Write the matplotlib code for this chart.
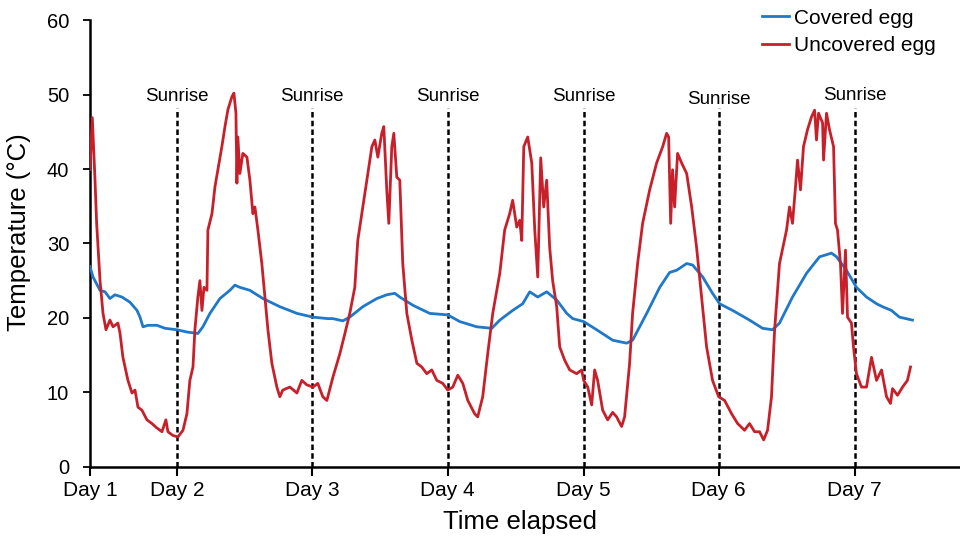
import matplotlib
matplotlib.use("Agg")
import matplotlib.pyplot as plt

plt.rcParams["font.family"] = ["Liberation Sans", "DejaVu Sans"]

# time in days elapsed since the start of logging, temperature in deg C
uncovered_t = [
    0.000, 0.017, 0.037, 0.049, 0.074, 0.096, 0.118, 0.147, 0.170, 0.206,
    0.221, 0.243, 0.280, 0.310, 0.332, 0.354, 0.383, 0.420, 0.457, 0.494,
    0.531, 0.560, 0.575, 0.612, 0.649, 0.686, 0.715, 0.737, 0.760, 0.774,
    0.796, 0.811, 0.826, 0.841, 0.863, 0.870, 0.900, 0.922, 0.944, 0.973,
    0.996, 1.018, 1.047, 1.062, 1.077, 1.084, 1.091, 1.106, 1.128, 1.158,
    1.180, 1.202, 1.217, 1.239, 1.268, 1.291, 1.313, 1.342, 1.379, 1.401,
    1.423, 1.475, 1.527, 1.563, 1.600, 1.645, 1.681, 1.718, 1.748, 1.792,
    1.844, 1.881, 1.917, 1.954, 1.976, 2.006, 2.043, 2.080, 2.102, 2.124,
    2.153, 2.168, 2.190, 2.205, 2.227, 2.242, 2.264, 2.286, 2.308, 2.338,
    2.375, 2.412, 2.448, 2.485, 2.522, 2.559, 2.603, 2.640, 2.677, 2.714,
    2.751, 2.788, 2.839, 2.861, 2.898, 2.935, 2.972, 3.024, 3.060, 3.097,
    3.119, 3.149, 3.171, 3.186, 3.201, 3.230, 3.260, 3.282, 3.304, 3.326,
    3.348, 3.370, 3.392, 3.414, 3.444, 3.466, 3.503, 3.540, 3.591, 3.628,
    3.643, 3.673, 3.702, 3.724, 3.746, 3.783, 3.820, 3.857, 3.886, 3.923,
    3.945, 3.982, 4.004, 4.041, 4.078, 4.130, 4.181, 4.226, 4.255, 4.270,
    4.285, 4.299, 4.314, 4.336, 4.366, 4.403, 4.440, 4.476, 4.513, 4.550,
    4.594, 4.639, 4.683, 4.735, 4.779, 4.830, 4.867, 4.904, 4.941, 4.971,
    5.000, 5.029, 5.052, 5.088, 5.140, 5.162, 5.184, 5.206, 5.221, 5.243,
    5.265, 5.295, 5.324, 5.347, 5.361, 5.376, 5.406, 5.413, 5.435, 5.457,
    5.487, 5.501, 5.516, 5.538, 5.553, 5.575, 5.590, 5.619, 5.634, 5.656,
    5.693, 5.730, 5.767, 5.804, 5.841, 5.878, 5.907, 5.922, 5.959, 5.996,
    6.032, 6.055,
]
uncovered_temp = [
    39.9, 46.9, 38.5, 32.7, 25.0, 20.6, 18.4, 19.7, 18.8, 19.3,
    18.0, 14.7, 11.6, 9.9, 10.3, 8.0, 7.6, 6.3, 5.8, 5.2,
    4.7, 6.3, 4.7, 4.2, 4.0, 4.9, 7.1, 11.6, 13.4, 18.4,
    22.8, 25.0, 21.0, 24.1, 23.7, 31.8, 34.0, 37.6, 39.9, 43.0,
    45.7, 48.0, 49.7, 50.2, 47.5, 38.1, 44.3, 39.4, 42.1, 41.6,
    38.5, 34.0, 34.9, 31.8, 27.3, 22.8, 18.4, 13.9, 10.7, 9.4,
    10.3, 10.7, 9.9, 11.6, 11.0, 10.7, 11.2, 9.4, 8.9, 12.0,
    15.2, 17.9, 20.6, 24.1, 30.4, 34.0, 38.5, 43.0, 43.9, 41.6,
    44.8, 45.7, 37.2, 32.7, 43.0, 44.8, 38.9, 38.5, 27.3, 20.6,
    17.0, 13.9, 13.4, 12.5, 13.0, 11.6, 11.2, 10.3, 10.7, 12.3,
    11.2, 8.9, 7.1, 6.7, 9.4, 15.2, 20.6, 26.0, 31.8, 34.0,
    35.8, 32.2, 33.1, 30.4, 43.0, 44.3, 40.8, 31.8, 25.5, 41.5,
    34.9, 38.5, 29.5, 25.0, 21.5, 16.1, 14.3, 13.0, 12.5, 13.0,
    11.6, 10.7, 8.3, 13.0, 11.6, 7.6, 6.3, 7.3, 6.7, 5.4,
    6.7, 13.9, 20.6, 27.3, 32.7, 37.2, 40.8, 43.0, 44.8, 44.3,
    32.7, 39.9, 34.9, 42.1, 40.8, 39.4, 34.9, 29.5, 22.8, 16.1,
    11.6, 9.4, 8.9, 7.1, 5.8, 4.9, 5.8, 4.7, 4.7, 3.6,
    4.9, 9.4, 18.4, 27.3, 31.8, 34.9, 32.7, 37.6, 41.2, 37.2,
    43.0, 45.3, 47.0, 47.9, 43.9, 47.5, 46.2, 41.2, 47.5, 45.3,
    43.0, 32.7, 31.8, 27.3, 20.6, 29.1, 20.1, 19.3, 16.1, 12.5,
    10.7, 10.7, 14.7, 11.6, 13.0, 9.4, 8.5, 10.5, 9.6, 10.7,
    11.6, 13.4,
]

covered_t = [
    0.000, 0.022, 0.074, 0.111, 0.147, 0.184, 0.236, 0.295, 0.347, 0.369,
    0.391, 0.428, 0.494, 0.553, 0.642, 0.715, 0.796, 0.833, 0.885, 0.959,
    1.032, 1.069, 1.106, 1.180, 1.276, 1.401, 1.527, 1.645, 1.755, 1.792,
    1.866, 1.917, 2.013, 2.117, 2.190, 2.249, 2.286, 2.382, 2.507, 2.640,
    2.729, 2.854, 2.965, 3.024, 3.119, 3.193, 3.245, 3.304, 3.370, 3.444,
    3.518, 3.562, 3.643, 3.739, 3.857, 3.960, 4.004, 4.108, 4.204, 4.277,
    4.329, 4.403, 4.447, 4.521, 4.594, 4.646, 4.742, 4.867, 4.963, 5.037,
    5.088, 5.184, 5.288, 5.383, 5.472, 5.509, 5.582, 5.656, 5.730, 5.804,
    5.848, 5.914, 5.973, 6.069,
]
covered_temp = [
    26.9, 25.5, 23.7, 23.5, 22.6, 23.1, 22.8, 22.1, 21.0, 20.1,
    18.8, 19.0, 19.0, 18.6, 18.4, 18.1, 17.9, 18.8, 20.6, 22.6,
    23.7, 24.4, 24.1, 23.7, 22.6, 21.5, 20.6, 20.1, 19.9, 19.9,
    19.6, 20.1, 21.5, 22.6, 23.1, 23.3, 22.8, 21.7, 20.6, 20.4,
    19.5, 18.8, 18.6, 19.7, 21.0, 21.9, 23.5, 22.8, 23.5, 22.4,
    20.6, 19.9, 19.5, 18.4, 17.0, 16.6, 17.0, 20.6, 24.1, 26.1,
    26.4, 27.3, 27.1, 25.5, 23.3, 21.9, 21.0, 19.7, 18.6, 18.4,
    19.3, 22.8, 26.0, 28.2, 28.7, 28.2, 26.4, 24.1, 22.8, 21.9,
    21.5, 21.0, 20.1, 19.7,
]

sunrise_t = [0.642, 1.637, 2.640, 3.643, 4.639, 5.642]
sunrise_label_y = [49.7, 49.7, 49.7, 49.7, 49.4, 49.9]
day_ticks = [0.0] + sunrise_t
day_labels = ["Day 1", "Day 2", "Day 3", "Day 4", "Day 5", "Day 6", "Day 7"]

fig = plt.figure(figsize=(9.6, 5.38), dpi=100)
ax = fig.add_axes([0.09375, 0.1325, 0.90625, 0.830])

ax.plot(covered_t, covered_temp, color="#1F78C8", lw=2.0, label="Covered egg", zorder=3)
ax.plot(uncovered_t, uncovered_temp, color="#C8202A", lw=2.0, label="Uncovered egg", zorder=3)

for t, ly in zip(sunrise_t, sunrise_label_y):
    ax.vlines(t, 0, 48.2, colors="black", linestyles=(0, (2.2, 1.3)), lw=1.8, zorder=2)
    ax.text(t, ly, "Sunrise", ha="center", va="center", fontsize=13.5)

ax.set_xlim(0, 6.42)
ax.set_ylim(0, 60)
ax.set_yticks(range(0, 61, 10))
ax.set_xticks(day_ticks)
ax.set_xticklabels(day_labels)
ax.tick_params(axis="y", direction="out", length=5, width=1.3, labelsize=14.5, pad=10)
ax.tick_params(axis="x", direction="out", length=6.5, width=1.5, labelsize=15, pad=4)

for side in ("top", "right"):
    ax.spines[side].set_visible(False)
for side in ("left", "bottom"):
    ax.spines[side].set_linewidth(1.8)

ax.set_xlabel("Time elapsed", fontsize=18.5)
ax.set_ylabel("Temperature (°C)", fontsize=18.5)
ax.xaxis.set_label_coords(0.494, -0.097)
ax.yaxis.set_label_coords(-0.068, 0.526)

ax.legend(loc="upper left", bbox_to_anchor=(0.772, 1.026), frameon=False,
          fontsize=15, handlelength=1.3, handletextpad=0.25, labelspacing=0.4,
          borderaxespad=0, borderpad=0)

fig.savefig("out.png", dpi=100)
